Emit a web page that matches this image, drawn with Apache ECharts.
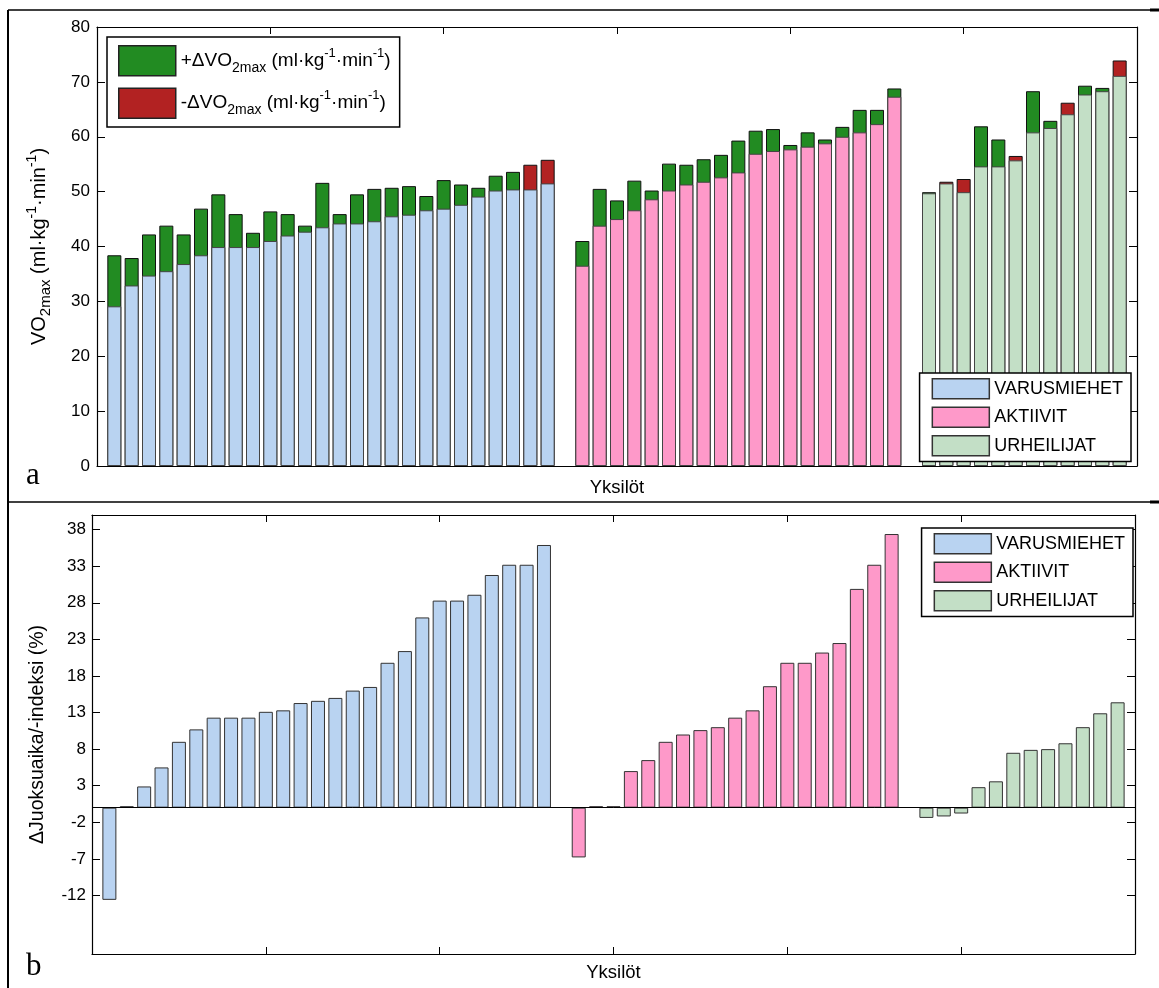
<!DOCTYPE html>
<html>
<head>
<meta charset="utf-8">
<script src="https://cdn.jsdelivr.net/npm/echarts@6/dist/echarts.min.js"></script>
<style>
html, body { margin: 0; padding: 0; background: #fff; }
#main { width: 1159px; height: 988px; }
</style>
</head>
<body>
<div id="main"></div>
<script>
var groups = ['VARUSMIEHET', 'AKTIIVIT', 'URHEILIJAT'];
var groupColors = ['#b9d3f1', '#fe99c9', '#c3dfc6'];
var deltaNames = ['+ΔVO2max', '-ΔVO2max'];
var deltaColors = ['#228b22', '#b22222'];

// VO2max ennen / jälkeen (ml/kg/min)
var varusPre  = [29.1, 32.9, 34.7, 35.5, 36.8, 38.4, 39.9, 39.9, 39.9, 41.0, 42.0, 42.7, 43.5, 44.2, 44.2, 44.6, 45.5, 45.8, 46.6, 46.9, 47.6, 49.1, 50.2, 50.4, 54.9, 55.8];
var varusPost = [38.4, 37.9, 42.2, 43.8, 42.2, 46.9, 49.5, 45.9, 42.5, 46.4, 45.9, 43.8, 51.6, 45.9, 49.5, 50.5, 50.7, 51.0, 49.2, 52.1, 51.3, 50.7, 52.9, 53.6, 50.4, 51.5];
var aktiPre   = [36.5, 43.8, 45.0, 46.6, 48.6, 50.2, 51.3, 51.8, 52.6, 53.5, 56.9, 57.4, 57.7, 58.2, 58.8, 60.0, 60.8, 62.3, 67.3];
var aktiPost  = [41.0, 50.5, 48.4, 52.0, 50.2, 55.1, 54.9, 55.9, 56.7, 59.3, 61.1, 61.4, 58.5, 60.8, 59.5, 61.8, 64.9, 64.9, 68.8];
var urhePre   = [49.7, 51.8, 52.3, 54.6, 54.6, 56.5, 60.8, 61.6, 66.2, 67.7, 68.3, 73.9];
var urhePost  = [49.9, 51.5, 49.9, 61.9, 59.5, 55.7, 68.3, 62.9, 64.1, 69.3, 68.9, 71.1];

// muutos juoksuajassa / -indeksissä (%)
var varusRun = [-12.6, 0.2, 2.9, 5.5, 9.0, 10.7, 12.3, 12.3, 12.3, 13.1, 13.3, 14.3, 14.6, 15.0, 16.0, 16.5, 19.8, 21.4, 26.0, 28.3, 28.3, 29.1, 31.8, 33.2, 33.2, 35.9];
var aktiRun  = [-6.8, 0.2, 0.2, 5.0, 6.5, 9.0, 10.0, 10.6, 11.0, 12.3, 13.3, 16.6, 19.8, 19.8, 21.2, 22.5, 29.9, 33.2, 37.4];
var urheRun  = [-1.4, -1.2, -0.8, 2.8, 3.6, 7.5, 7.9, 8.0, 8.8, 11.0, 12.9, 14.4];

var runTicks = [-12, -7, -2, 3, 8, 13, 18, 23, 28, 33, 38];

var preSets = [varusPre, aktiPre, urhePre];
var postSets = [varusPost, aktiPost, urhePost];
var runSets = [varusRun, aktiRun, urheRun];

// x-paikat: yksi tyhjä väli ryhmien välissä
var xPos = [];
var pos = 1;
preSets.forEach(function (arr) {
    xPos.push(arr.map(function (_, i) { return pos + i; }));
    pos += arr.length + 1;
});

// muutospalkki piirretään ylempään arvoon asti, ryhmäpalkki sen päälle alempaan arvoon
var baseData = [[], [], []], upData = [], downData = [];
preSets.forEach(function (pre, g) {
    pre.forEach(function (v, i) {
        var x = xPos[g][i], post = postSets[g][i];
        baseData[g].push([x, Math.min(v, post)]);
        if (post >= v) upData.push([x, post]);
        else downData.push([x, v]);
    });
});

var font = '"Liberation Sans", Arial, sans-serif';

function voText(prefix) {
    return '{n|' + prefix + 'VO}{sub|2max}{n| (ml·kg}{sup|-1}{n|·min}{sup|-1}{n|)}';
}
function voRich(size) {
    return {
        n: { fontSize: size, lineHeight: 28, color: '#000', fontFamily: font },
        sub: { fontSize: size - 5, lineHeight: 13, verticalAlign: 'bottom', color: '#000', fontFamily: font },
        sup: { fontSize: size - 6, lineHeight: 12, verticalAlign: 'top', color: '#000', fontFamily: font }
    };
}

function xAx(grid, position, name, gap) {
    return {
        type: 'value', gridIndex: grid, position: position,
        min: 0, max: 60, interval: 10,
        name: name, nameLocation: 'middle', nameGap: gap,
        nameTextStyle: { fontSize: 18.5, color: '#000', fontFamily: font },
        axisLine: { show: true, onZero: false, lineStyle: { color: '#000', width: 1.2 } },
        axisTick: { show: true, inside: true, length: 7, lineStyle: { color: '#000' } },
        axisLabel: { show: false },
        splitLine: { show: false }
    };
}

var seriesList = [];
[upData, downData].forEach(function (d, k) {
    seriesList.push({
        name: deltaNames[k], type: 'bar', xAxisIndex: 0, yAxisIndex: 0,
        barWidth: 14, barGap: '-100%', data: d,
        itemStyle: { color: deltaColors[k], borderColor: '#111', borderWidth: 1 }
    });
});
groups.forEach(function (name, g) {
    seriesList.push({
        name: name, type: 'bar', xAxisIndex: 0, yAxisIndex: 0,
        barWidth: 14, barGap: '-100%', data: baseData[g],
        itemStyle: { color: groupColors[g], borderColor: '#444', borderWidth: 1 }
    });
});
runSets.forEach(function (vals, g) {
    var s = {
        name: groups[g], type: 'bar', xAxisIndex: 2, yAxisIndex: 2,
        barWidth: 14, barGap: '-100%',
        data: vals.map(function (v, i) { return [xPos[g][i], v]; }),
        itemStyle: { color: groupColors[g], borderColor: '#333', borderWidth: 1 }
    };
    if (g === 0) {
        s.markLine = {
            silent: true, symbol: 'none', label: { show: false },
            lineStyle: { color: '#000', width: 1, type: 'solid' },
            data: [{ yAxis: 0 }]
        };
    }
    seriesList.push(s);
});

var groupLegend = {
    data: groups, orient: 'vertical', selectedMode: false,
    icon: 'rect', itemWidth: 57, itemHeight: 20, itemGap: 7,
    padding: [5, 8, 5, 12],
    backgroundColor: '#fff', borderColor: '#000', borderWidth: 1.5,
    itemStyle: { borderColor: '#333', borderWidth: 1.5 },
    textStyle: { fontSize: 18, color: '#000', fontFamily: font }
};

var option = {
    animation: false,
    textStyle: { fontFamily: font },
    grid: [
        { left: 97, top: 27, width: 1040, height: 439 },
        { left: 92, top: 515, width: 1043, height: 439 }
    ],
    legend: [
        {
            data: deltaNames, orient: 'vertical', selectedMode: false,
            left: 107, top: 37,
            icon: 'rect', itemWidth: 57, itemHeight: 30, itemGap: 11,
            padding: [8, 9, 8, 11],
            backgroundColor: '#fff', borderColor: '#000', borderWidth: 1.5,
            itemStyle: { borderColor: '#222', borderWidth: 1.5 },
            formatter: function (name) { return voText(name.slice(0, 2)); },
            textStyle: { rich: voRich(19) }
        },
        Object.assign({ right: 28, top: 373 }, groupLegend),
        Object.assign({ right: 26, top: 528 }, groupLegend)
    ],
    xAxis: [
        xAx(0, 'bottom', 'Yksilöt', 12),
        xAx(0, 'top', '', 0),
        xAx(1, 'bottom', 'Yksilöt', 9),
        xAx(1, 'top', '', 0)
    ],
    yAxis: [
        {
            type: 'value', gridIndex: 0, position: 'left', min: 0, max: 80, interval: 10,
            name: voText(''), nameLocation: 'middle', nameGap: 44,
            nameTextStyle: { rich: voRich(20) },
            axisLine: { show: true, onZero: false, lineStyle: { color: '#000', width: 1.2 } },
            axisTick: { show: true, inside: true, length: 8, lineStyle: { color: '#000' } },
            axisLabel: { fontSize: 17, color: '#000', margin: 7 },
            splitLine: { show: false }
        },
        {
            type: 'value', gridIndex: 0, position: 'right', min: 0, max: 80, interval: 10,
            axisLine: { show: true, onZero: false, lineStyle: { color: '#000', width: 1.2 } },
            axisTick: { show: true, inside: true, length: 8, lineStyle: { color: '#000' } },
            axisLabel: { show: false },
            splitLine: { show: false }
        },
        {
            type: 'value', gridIndex: 1, position: 'left', min: -20, max: 40,
            name: 'ΔJuoksuaika/-indeksi (%)', nameLocation: 'middle', nameGap: 44,
            nameTextStyle: { fontSize: 19.5, color: '#000', fontFamily: font },
            axisLine: { show: true, onZero: false, lineStyle: { color: '#000', width: 1.2 } },
            axisTick: { show: true, inside: true, length: 8, customValues: runTicks, lineStyle: { color: '#000' } },
            axisLabel: { fontSize: 17, color: '#000', margin: 6, customValues: runTicks },
            splitLine: { show: false }
        },
        {
            type: 'value', gridIndex: 1, position: 'right', min: -20, max: 40,
            axisLine: { show: true, onZero: false, lineStyle: { color: '#000', width: 1.2 } },
            axisTick: { show: true, inside: true, length: 8, customValues: runTicks, lineStyle: { color: '#000' } },
            axisLabel: { show: false },
            splitLine: { show: false }
        }
    ],
    graphic: [
        { type: 'line', silent: true, shape: { x1: 8, y1: 10, x2: 8, y2: 988 }, style: { stroke: '#000', lineWidth: 2 } },
        { type: 'line', silent: true, shape: { x1: 8, y1: 10, x2: 1150, y2: 10 }, style: { stroke: '#000', lineWidth: 1.5 } },
        { type: 'line', silent: true, shape: { x1: 1150, y1: 10, x2: 1159, y2: 10 }, style: { stroke: '#000', lineWidth: 3 } },
        { type: 'line', silent: true, shape: { x1: 8, y1: 502, x2: 1150, y2: 502 }, style: { stroke: '#000', lineWidth: 1.5 } },
        { type: 'line', silent: true, shape: { x1: 1150, y1: 502, x2: 1159, y2: 502 }, style: { stroke: '#000', lineWidth: 3 } },
        { type: 'text', silent: true, style: { x: 26, y: 476, text: 'a', font: '31px "Liberation Serif", "Times New Roman", serif', fill: '#000', verticalAlign: 'middle' } },
        { type: 'text', silent: true, style: { x: 26, y: 967, text: 'b', font: '31px "Liberation Serif", "Times New Roman", serif', fill: '#000', verticalAlign: 'middle' } }
    ],
    series: seriesList
};

var myChart = echarts.init(document.getElementById('main'));
myChart.setOption(option);
</script>
</body>
</html>
